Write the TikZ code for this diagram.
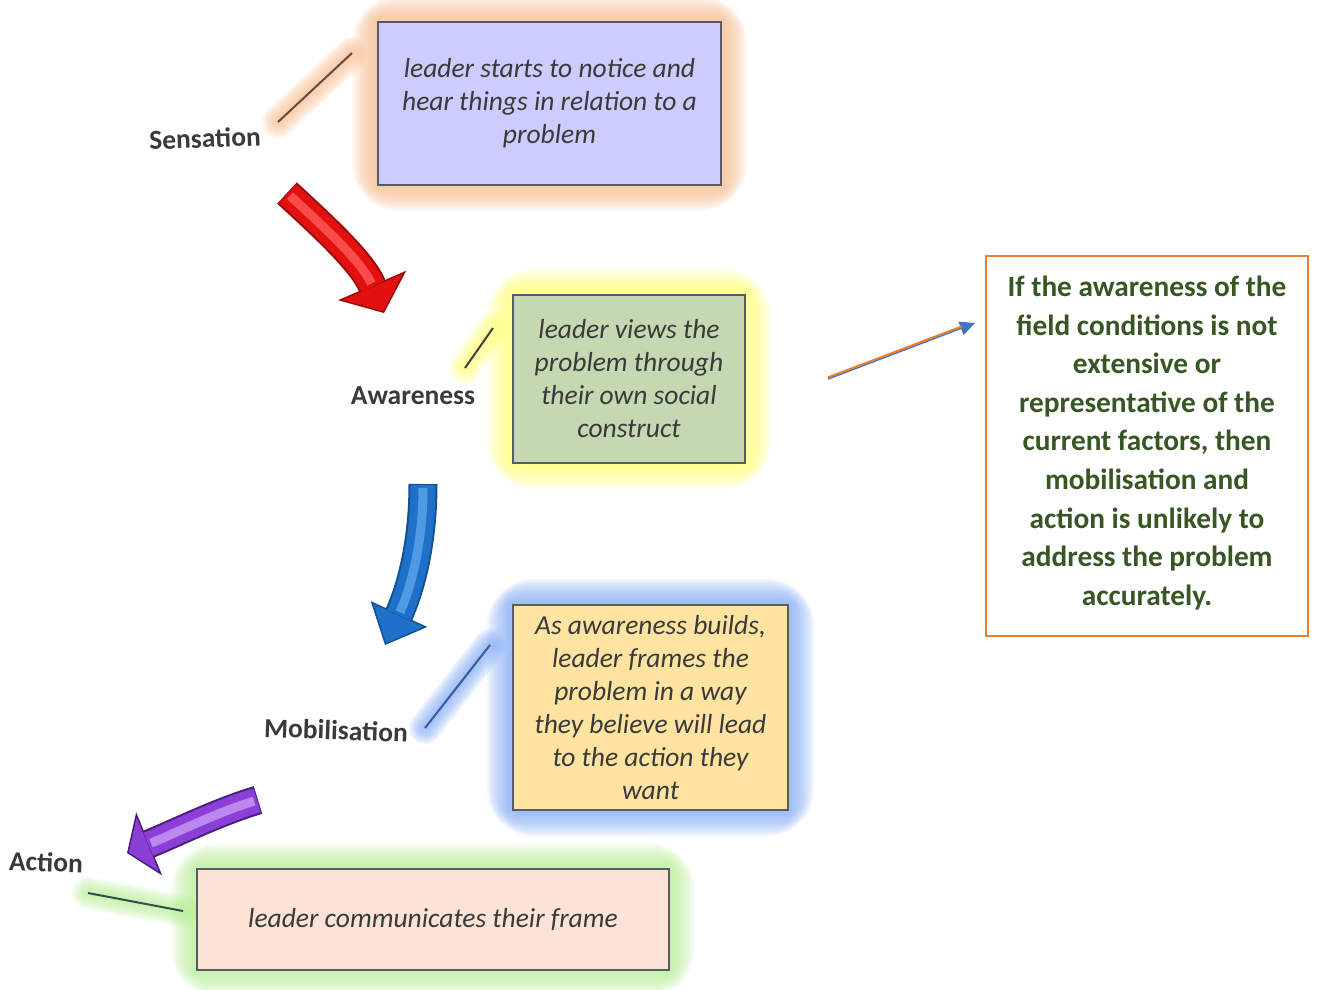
\documentclass[tikz,border=0pt]{standalone}
\usepackage{fontspec}
\setmainfont{Carlito}
\usetikzlibrary{arrows.meta,backgrounds}
\definecolor{boxline}{HTML}{5A5A66}
\definecolor{fillA}{HTML}{CCCCFF}
\definecolor{glowA}{HTML}{F7B98A}
\definecolor{fillB}{HTML}{C4D8B2}
\definecolor{glowB}{HTML}{FFFF70}
\definecolor{fillC}{HTML}{FFE3A0}
\definecolor{glowC}{HTML}{7FA8F5}
\definecolor{fillD}{HTML}{FBE3D6}
\definecolor{glowD}{HTML}{B5EC92}
\definecolor{noteorange}{HTML}{ED7D31}
\definecolor{notegreen}{HTML}{375623}
\definecolor{arrowblue}{HTML}{4472C4}
\definecolor{txt}{HTML}{3A3A3A}
\definecolor{redmain}{HTML}{E31010}
\definecolor{reddark}{HTML}{9A0C0C}
\definecolor{redlight}{HTML}{FF5A5A}
\definecolor{bluemain}{HTML}{1F70C8}
\definecolor{bluedark}{HTML}{14508F}
\definecolor{bluelight}{HTML}{5AA6EA}
\definecolor{purmain}{HTML}{8C3FD6}
\definecolor{purdark}{HTML}{4A1E7E}
\definecolor{purlight}{HTML}{C99AF5}
\definecolor{leadA}{HTML}{6A4A3A}
\definecolor{leadB}{HTML}{404040}
\definecolor{leadC}{HTML}{3A5A9A}
\definecolor{leadD}{HTML}{2F5050}

\newcommand\boxglow[2]{%
  \foreach \w in {50,46,...,6}{%
    \draw[#2,opacity=.1,line width=\w pt,rounded corners=.45*\w pt] (#1.south west) rectangle (#1.north east);
  }%
}
\newcommand\leaderglow[3]{%
  \foreach \w in {32,28,...,4}{%
    \draw[#3,opacity=.14,line width=\w pt,line cap=round] (#1) -- (#2);
  }%
}
% start, c1, c2, end, main, dark, light, tip length, tip width
\newcommand\fatarrow[9]{%
  \draw[#6,line width=29pt,-{Triangle[length=#8,width=#9,line width=1.5pt,color=#6,fill=#5]}] (#1) .. controls (#2) and (#3) .. (#4);
  \draw[#5,line width=25pt,shorten >=#8-1pt,shorten <=1pt] (#1) .. controls (#2) and (#3) .. (#4);
  \draw[#7,line width=9pt,opacity=.8,shorten >=#8+2pt,shorten <=4pt] (#1) .. controls (#2) and (#3) .. (#4);
}

\begin{document}
\begin{tikzpicture}[x=1pt,y=-1pt,
  desc/.style={draw=boxline,line width=2.2pt,align=center,inner sep=0pt,text=txt,
    font=\fontsize{27.5}{33}\selectfont\itshape},
  stage/.style={text=txt,inner sep=0pt,font=\fontsize{27.5}{30}\selectfont\bfseries},
  leader/.style={line width=2pt}]
\useasboundingbox (0,0) rectangle (1317,989);

% description boxes
\node[desc,fill=fillA,minimum width=343pt,minimum height=163pt] (bsens) at (549.5,103.5)
  {leader starts to notice and\\hear things in relation to a\\problem};
\node[desc,fill=fillB,minimum width=232pt,minimum height=168pt] (baware) at (629,379)
  {leader views the\\problem through\\their own social\\construct};
\node[desc,fill=fillC,minimum width=275pt,minimum height=205pt] (bmobil) at (650.5,707.5)
  {As awareness builds,\\leader frames the\\problem in a way\\they believe will lead\\to the action they\\want};
\node[desc,fill=fillD,minimum width=472pt,minimum height=101pt] (bact) at (433,919.5)
  {leader communicates their frame};

% stage labels
\node[stage,rotate=2] (lsens) at (205,138) {Sensation};
\node[stage] (laware) at (413,396) {Awareness};
\node[stage,rotate=-2] (lmobil) at (336,730) {Mobilisation};
\node[stage,rotate=-2] (lact) at (46,862) {Action};

% note box
\node[draw=noteorange,line width=2.5pt,minimum width=322pt,minimum height=380pt,
  inner sep=0pt] (note) at (1147,446) {};
\node[align=center,inner sep=0pt,text=notegreen,font=\fontsize{29.3}{38.6}\selectfont\bfseries]
  (notetext) at (1147,443)
  {If the awareness of the\\field conditions is not\\extensive or\\representative of the\\current factors, then\\mobilisation and\\action is unlikely to\\address the problem\\accurately.};

% leader line end points
\coordinate (sa) at (278,122); \coordinate (sb) at (352,53);
\coordinate (aa) at (465,368); \coordinate (ab) at (493,328);
\coordinate (ma) at (425,728); \coordinate (mb) at (490,645);
\coordinate (xa) at (88,893);  \coordinate (xb) at (183,911);

\begin{scope}[on background layer]
  \boxglow{bsens}{glowA}
  \boxglow{baware}{glowB}
  \boxglow{bmobil}{glowC}
  \boxglow{bact}{glowD}
  \leaderglow{sa}{sb}{glowA}
  \leaderglow{aa}{ab}{glowB}
  \leaderglow{ma}{mb}{glowC}
  \leaderglow{xa}{xb}{glowD}
\end{scope}

\draw[leader,leadA] (sa) -- (sb);
\draw[leader,leadB] (aa) -- (ab);
\draw[leader,leadC] (ma) -- (mb);
\draw[leader,leadD] (xa) -- (xb);

% big curved arrows
\coordinate (r0) at (287,193); \coordinate (r1) at (325,228);
\coordinate (r2) at (362,262); \coordinate (r3) at (384,313);
\fatarrow{r0}{r1}{r2}{r3}{redmain}{reddark}{redlight}{30pt}{74pt}

\coordinate (u0) at (423,484); \coordinate (u1) at (423,545);
\coordinate (u2) at (410,590); \coordinate (u3) at (385,645);
\fatarrow{u0}{u1}{u2}{u3}{bluemain}{bluedark}{bluelight}{34pt}{62pt}

\coordinate (p0) at (258,800); \coordinate (p1) at (218,812);
\coordinate (p2) at (178,832); \coordinate (p3) at (127,853);
\fatarrow{p0}{p1}{p2}{p3}{purmain}{purdark}{purlight}{24pt}{68pt}

% note pointer
\coordinate (na) at (828,379); \coordinate (nb) at (975,323);
\draw[arrowblue,line width=1.5pt,-{Triangle[length=15pt,width=14pt]}] (na) -- (nb);
\draw[noteorange,line width=2pt,shorten >=14pt,transform canvas={yshift=1.6pt}] (na) -- (nb);
\end{tikzpicture}
\end{document}
